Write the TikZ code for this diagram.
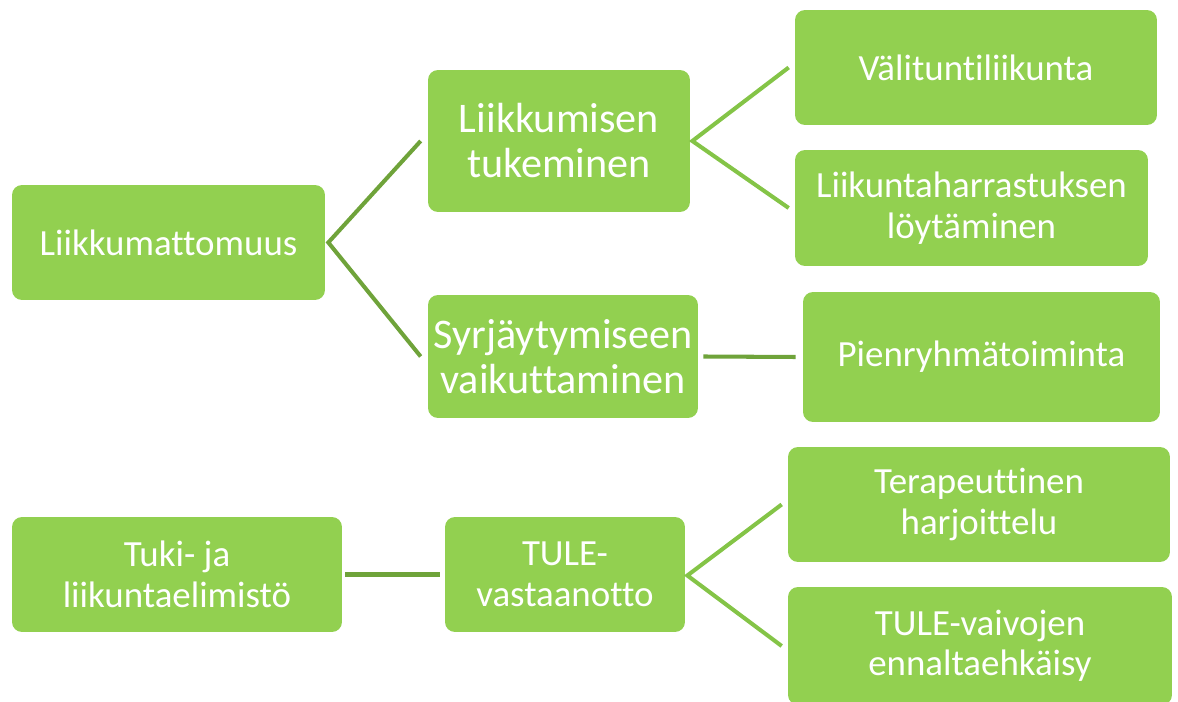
\documentclass[tikz,border=0pt]{standalone}
\usepackage{fontspec}
\setmainfont{Carlito}[Ligatures={NoCommon,NoContextual}, RawFeature={-liga;-clig;-dlig;-calt}]
\usetikzlibrary{calc}

\definecolor{boxgreen}{HTML}{92D050}
\definecolor{linedark}{HTML}{6FA33A}
\definecolor{linelight}{HTML}{84C447}

\begin{document}
\begin{tikzpicture}[x=0.02cm, y=-0.02cm,
        box/.style={fill=boxgreen, rounded corners=0.2cm, text=white, align=center,
            inner sep=0pt, font=\fontsize{21}{23}\selectfont},
        bigbox/.style={box, font=\fontsize{24}{25.6}\selectfont},
        conn/.style={line width=2.3pt},
    ]
        % Page size of the reference
        \useasboundingbox (0,0) rectangle (1178,702);

        % First tree: boxes on the left and middle column
        \node[box, minimum width=6.26cm, minimum height=2.3cm] (liik) at (168.5,242.5) {Liikkumattomuus};
        \node[bigbox, minimum width=5.24cm, minimum height=2.84cm] (tuk) at (559,141) {Liikkumisen\\tukeminen};
        \node[bigbox, minimum width=5.4cm, minimum height=2.46cm] (syr) at (563,356.5) {Syrjäytymiseen\\vaikuttaminen};

        % Right column
        \node[box, minimum width=7.24cm, minimum height=2.3cm] (vali) at (976,67.5) {Välituntiliikunta};
        \node[box, minimum width=7.06cm, minimum height=2.32cm] (harr) at (971.5,208) {Liikuntaharrastuksen\\löytäminen};
        \node[box, minimum width=7.14cm, minimum height=2.6cm] (pien) at (981.5,357) {Pienryhmätoiminta};

        % Second tree
        \node[box, minimum width=6.6cm, minimum height=2.3cm] (tuki) at (177,574.5) {Tuki- ja\\liikuntaelimistö};
        \node[box, minimum width=4.8cm, minimum height=2.3cm] (tule) at (565,574.5) {TULE-\\vastaanotto};
        \node[box, minimum width=7.64cm, minimum height=2.3cm] (tera) at (979,504.5) {Terapeuttinen\\harjoittelu};
        \node[box, minimum width=7.68cm, minimum height=2.36cm] (vaiv) at (980,646) {TULE-vaivojen\\ennaltaehkäisy};

        % Fork points just right of the parent boxes
        \coordinate (fork1) at ($(liik.east)+(3,0)$);
        \coordinate (fork2) at ($(tuk.east)+(2,0)$);
        \coordinate (fork3) at ($(tule.east)+(2,1)$);

        % Connectors
        \draw[conn, linedark] ([xshift=-0.14cm]tuk.west) -- (fork1) -- ([xshift=-0.14cm]syr.west);
        \draw[conn, linelight] ([xshift=-0.12cm]vali.west) -- (fork2) -- ([xshift=-0.12cm]harr.west);
        \draw[conn, linedark] ([xshift=0.1cm]syr.east) -- ([xshift=-0.14cm]pien.west);
        \draw[conn, linedark] ([xshift=0.06cm]tuki.east) -- ([xshift=-0.1cm]tule.west);
        \draw[conn, linelight] ([xshift=-0.12cm]tera.west) -- (fork3) -- ([xshift=-0.12cm]vaiv.west);
\end{tikzpicture}
\end{document}
